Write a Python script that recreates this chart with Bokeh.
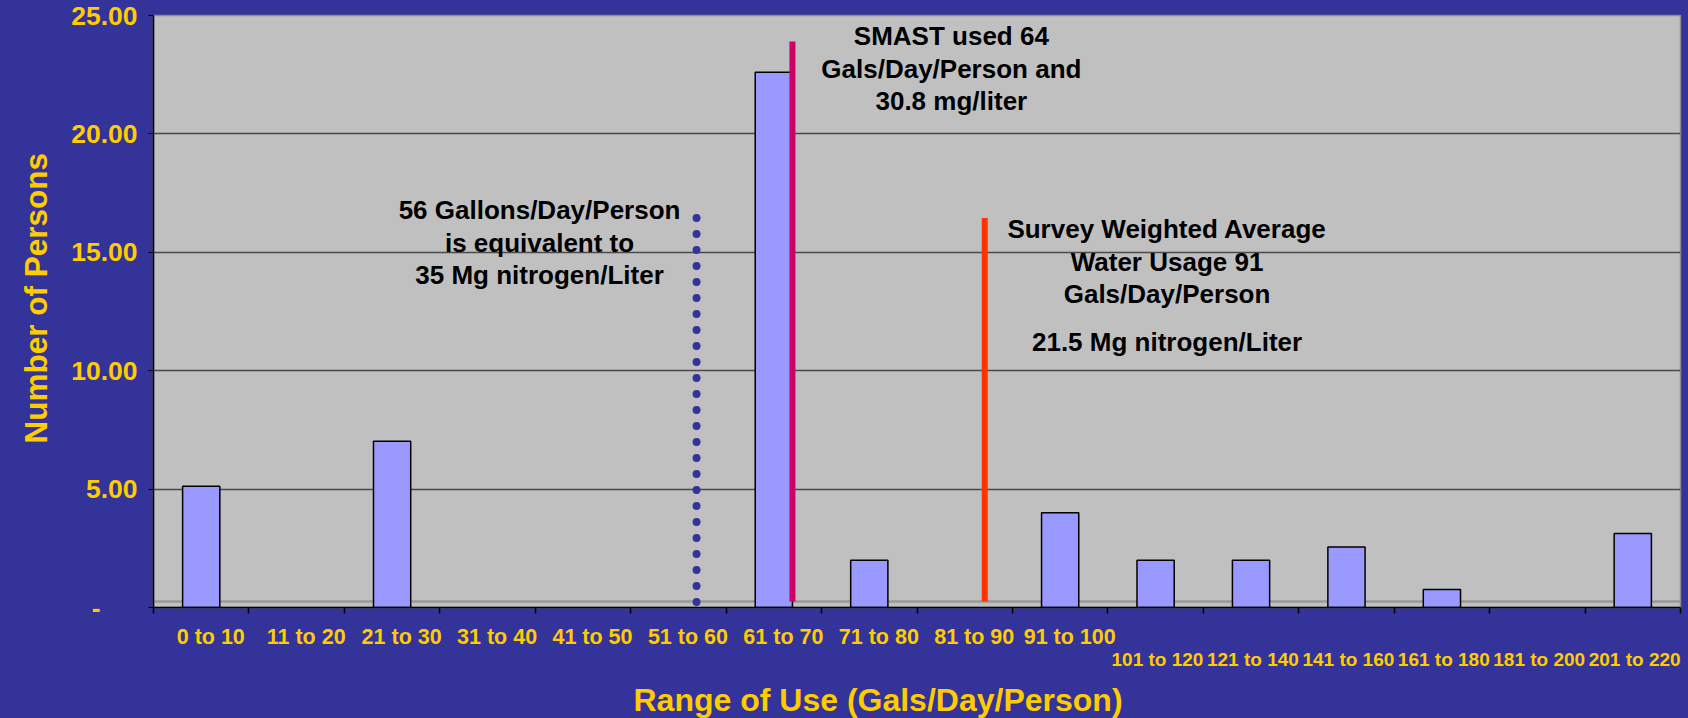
from bokeh.plotting import figure
from bokeh.models import Range1d, FixedTicker, LinearAxis, Title, Span, ColumnDataSource
from bokeh.core.properties import value
from bokeh.embed import file_html
from bokeh.resources import INLINE

# ---------------- data ----------------
categories = ["0 to 10", "11 to 20", "21 to 30", "31 to 40", "41 to 50", "51 to 60",
              "61 to 70", "71 to 80", "81 to 90", "91 to 100", "101 to 120",
              "121 to 140", "141 to 160", "161 to 180", "181 to 200", "201 to 220"]
persons = [5.12, 0.0, 7.02, 0.0, 0.0, 0.0, 22.6, 2.0, 0.0, 4.0, 2.0, 2.0, 2.55, 0.76, 0.0, 3.12]
y_ticks = [0, 5, 10, 15, 20, 25]
y_tick_labels = ["-", "5.00", "10.00", "15.00", "20.00", "25.00"]
upper_row_count = 10   # first 10 category labels on the upper row, the rest below

note_56 = "56 Gallons/Day/Person\nis equivalent to\n35 Mg nitrogen/Liter"
note_smast = "SMAST used 64\nGals/Day/Person and\n30.8 mg/liter"
note_survey = "Survey Weighted Average\nWater Usage 91\nGals/Day/Person"
note_survey_n = "21.5 Mg nitrogen/Liter"

# reference markers (x in category units from the left edge, heights in persons)
dotted_x, dotted_top, dotted_bottom = 5.69, 16.45, 0.2
solid_x = [6.695, 8.71]
solid_top = [23.9, 16.45]
solid_colors = ["#CC0066", "#FF3300"]
floor_level = 0.25

# ---------------- style ----------------
FONT = "Liberation Sans"
YEL = "#FFCC00"
BG = "#333399"

n = len(categories)
centers = [i + 0.5 for i in range(n)]
outline = ["black" if v > 0 else None for v in persons]
src = ColumnDataSource(dict(x=centers, top=persons, cat=categories, lc=outline))

p = figure(frame_width=1527, frame_height=592, output_backend="svg", toolbar_location=None,
           x_range=Range1d(0, n), y_range=Range1d(0, 25), title=None,
           min_border_left=153, min_border_right=8, min_border_top=15, min_border_bottom=111,
           background_fill_color="#C0C0C0", border_fill_color=BG,
           outline_line_color="#8c8c8c", outline_line_width=1.5)

p.xgrid.visible = False
p.ygrid.ticker = FixedTicker(ticks=y_ticks)
p.ygrid.grid_line_color = "#4a4a4a"
p.ygrid.grid_line_width = 1.4

# floor line of the 3D wall
p.add_layout(Span(location=floor_level, dimension="width", line_color="#999999",
                  line_width=2.5, level="underlay"))

# bars
p.vbar(x="x", top="top", width=0.39, source=src, fill_color="#9999FF",
       line_color="lc", line_width=1.5)

# marker lines
p.segment(x0=[dotted_x], y0=[dotted_top], x1=[dotted_x], y1=[dotted_bottom],
          line_color=BG, line_width=8, line_dash="0 16", line_cap="round")
p.segment(x0=solid_x, y0=[floor_level] * 2, x1=solid_x, y1=solid_top,
          line_color=solid_colors, line_width=6)

# notes
note_kw = dict(text_font=value(FONT), text_font_size="26px", text_font_style="bold",
               text_color="black", text_align="center", text_baseline="middle",
               text_line_height=1.07)
p.text(x=[4.045, 8.36, 10.62, 10.62], y=[15.41, 22.76, 14.61, 11.23],
       text=[note_56, note_smast, note_survey, note_survey_n], **note_kw)

# y axis
yax = p.yaxis[0]
yax.ticker = FixedTicker(ticks=y_ticks)
zero_label = y_tick_labels[0] + "\u00a0" * 5   # accounting-style dash sits left
yax.major_label_overrides = {t: (lab if t != 0 else zero_label) for t, lab in zip(y_ticks, y_tick_labels)}
yax.axis_line_color = "black"
yax.axis_line_width = 1.5
yax.major_tick_line_color = "black"
yax.major_tick_out = 5
yax.major_tick_in = 0
yax.minor_tick_line_color = None
yax.major_label_standoff = 11
yax.major_label_text_font = FONT
yax.major_label_text_font_size = "26.5px"
yax.major_label_text_font_style = "bold"
yax.major_label_text_color = YEL

yt = Title(text="Number of Persons", align="left", offset=164,
           text_font=FONT, text_font_size="31.5px", text_font_style="bold",
           text_color=YEL, standoff=29)
p.add_layout(yt, "left")

# x axis, upper row of labels + boundary ticks
row1_ticks = [i + 0.6 for i in range(upper_row_count)]
row2_ticks = [i + 0.52 for i in range(upper_row_count, n)]
xax = p.xaxis[0]
xax.ticker = FixedTicker(ticks=row1_ticks, minor_ticks=list(range(n + 1)))
xax.major_label_overrides = {t: categories[i] for i, t in enumerate(row1_ticks)}
xax.axis_line_color = "black"
xax.axis_line_width = 1.5
xax.major_tick_line_color = None
xax.major_tick_out = 0
xax.major_tick_in = 0
xax.minor_tick_line_color = "black"
xax.minor_tick_line_width = 1.5
xax.minor_tick_out = 6
xax.minor_tick_in = 0
xax.major_label_standoff = 11
xax.major_label_text_font = FONT
xax.major_label_text_font_size = "21.5px"
xax.major_label_text_font_style = "bold"
xax.major_label_text_color = YEL

ax2 = LinearAxis(ticker=FixedTicker(ticks=row2_ticks, minor_ticks=[]),
                 major_label_overrides={t: categories[upper_row_count + i] for i, t in enumerate(row2_ticks)},
                 axis_line_color=None, major_tick_line_color=None, minor_tick_line_color=None,
                 major_tick_out=0, major_tick_in=0, minor_tick_out=0, minor_tick_in=0,
                 major_label_standoff=-3, major_label_text_font=FONT,
                 major_label_text_font_size="19px", major_label_text_font_style="bold",
                 major_label_text_color=YEL)
p.add_layout(ax2, "below")

xt = Title(text="Range of Use (Gals/Day/Person)", align="left", offset=480,
           text_font=FONT, text_font_size="32px", text_font_style="bold",
           text_color=YEL, standoff=15)
p.add_layout(xt, "below")

tmpl = ("{% block preamble %}<style>html, body {margin: 0; padding: 0; "
        "background-color: #333399; overflow: hidden;}</style>{% endblock %}")
open("out.html", "w").write(file_html(p, INLINE, template=tmpl))
